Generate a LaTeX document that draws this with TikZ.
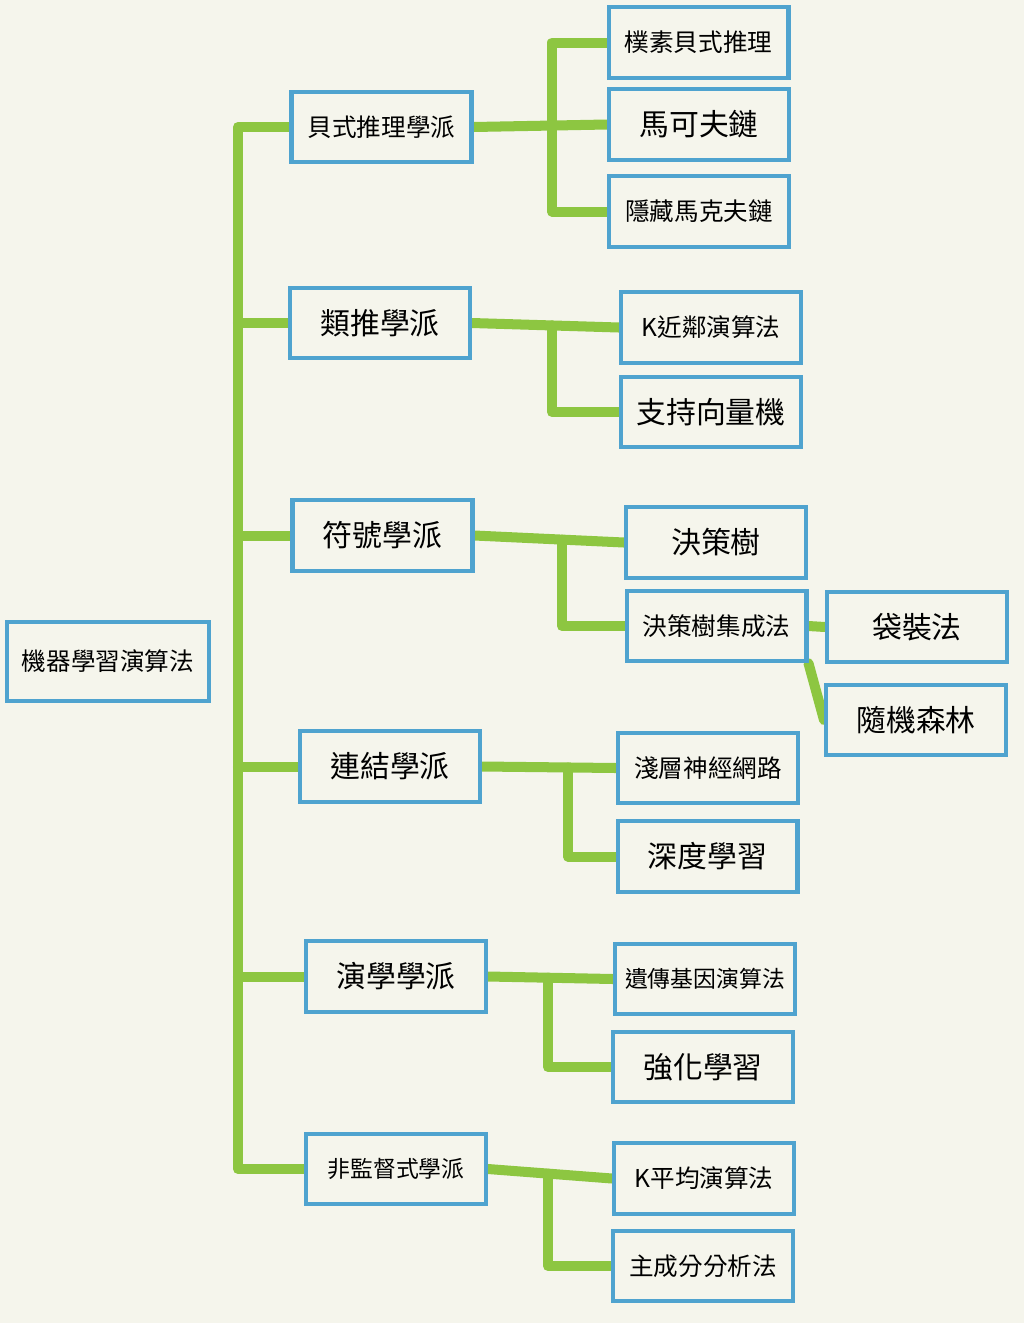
\documentclass[tikz,border=0pt]{standalone}
\usepackage{fontspec}
\setmainfont{Noto Sans CJK TC}
\usetikzlibrary{backgrounds}
\definecolor{boxblue}{HTML}{4FA3CF}
\definecolor{branchgreen}{HTML}{8DC641}
\definecolor{paper}{HTML}{F5F5EC}

\begin{document}
\begin{tikzpicture}[x=0.02cm, y=-0.02cm,
    box/.style={draw=boxblue, line width=2.3pt, fill=paper, rectangle, minimum width=3.6cm, minimum height=1.41cm, inner sep=0pt},
    big/.style={font=\fontsize{17}{20}\selectfont},
    mid/.style={font=\fontsize{14}{17}\selectfont},
    small/.style={font=\fontsize{13}{16}\selectfont},
    branch/.style={draw=branchgreen, line width=5.7pt, line cap=round, line join=round}]

    % Radice
    \node[box, mid, minimum width=4.04cm, minimum height=1.58cm] (root) at (108, 661.5) {機器學習演算法};

    % Scuole
    \node[box, mid] (bayes) at (381.5, 127) {貝式推理學派};
    \node[box, big] (analog) at (380, 323) {類推學派};
    \node[box, big] (symbol) at (382.5, 535.5) {符號學派};
    \node[box, big] (connect) at (390, 766.5) {連結學派};
    \node[box, big] (evol) at (396, 976.5) {演學學派};
    \node[box, small] (unsup) at (396, 1169) {非監督式學派};

    % Algoritmi
    \node[box, mid] (naive) at (698.5, 42.5) {樸素貝式推理};
    \node[box, big] (markov) at (699, 124.5) {馬可夫鏈};
    \node[box, mid] (hmm) at (699, 211.5) {隱藏馬克夫鏈};
    \node[box, mid] (knn) at (711, 327.5) {K近鄰演算法};
    \node[box, big] (svm) at (711, 412) {支持向量機};
    \node[box, big] (tree) at (716, 542.5) {決策樹};
    \node[box, mid] (ensemble) at (716.5, 626) {決策樹集成法};
    \node[box, big] (bagging) at (917, 627) {袋裝法};
    \node[box, big] (forest) at (916, 720) {隨機森林};
    \node[box, mid] (shallow) at (708, 768) {淺層神經網路};
    \node[box, big] (deep) at (707.5, 856.5) {深度學習};
    \node[box, small] (genetic) at (705, 979) {遺傳基因演算法};
    \node[box, big] (reinforce) at (703, 1067) {強化學習};
    \node[box, mid] (kmeans) at (704, 1178.5) {K平均演算法};
    \node[box, mid] (pca) at (703, 1266) {主成分分析法};

    % Punti di giunzione
    \coordinate (trunk) at (238, 700);
    \coordinate (j1) at (552, 125.5);
    \coordinate (j2) at (552, 325.4);
    \coordinate (j3) at (562, 539.6);
    \coordinate (j4) at (568, 767.5);
    \coordinate (j5) at (548, 977.7);
    \coordinate (j6) at (548, 1173.6);

    \begin{pgfonlayer}{background}
        \fill[paper] (0, 0) rectangle (1024, 1323);

        % Tronco
        \draw[branch] (bayes.west) -| (trunk) |- (unsup.west);
        \draw[branch] (trunk |- analog.west) -- (analog.west);
        \draw[branch] (trunk |- symbol.west) -- (symbol.west);
        \draw[branch] (trunk |- connect.west) -- (connect.west);
        \draw[branch] (trunk |- evol.west) -- (evol.west);

        % Rami
        \draw[branch] (bayes.east) -- (markov.west);
        \draw[branch] (naive.west) -| (j1) |- (hmm.west);

        \draw[branch] (analog.east) -- (knn.west);
        \draw[branch] (j2) |- (svm.west);

        \draw[branch] (symbol.east) -- (tree.west);
        \draw[branch] (j3) |- (ensemble.west);
        \draw[branch] (ensemble.east) -- (bagging.west);
        \draw[branch] (ensemble.south east) -- (forest.west);

        \draw[branch] (connect.east) -- (shallow.west);
        \draw[branch] (j4) |- (deep.west);

        \draw[branch] (evol.east) -- (genetic.west);
        \draw[branch] (j5) |- (reinforce.west);

        \draw[branch] (unsup.east) -- (kmeans.west);
        \draw[branch] (j6) |- (pca.west);
    \end{pgfonlayer}

\end{tikzpicture}
\end{document}
